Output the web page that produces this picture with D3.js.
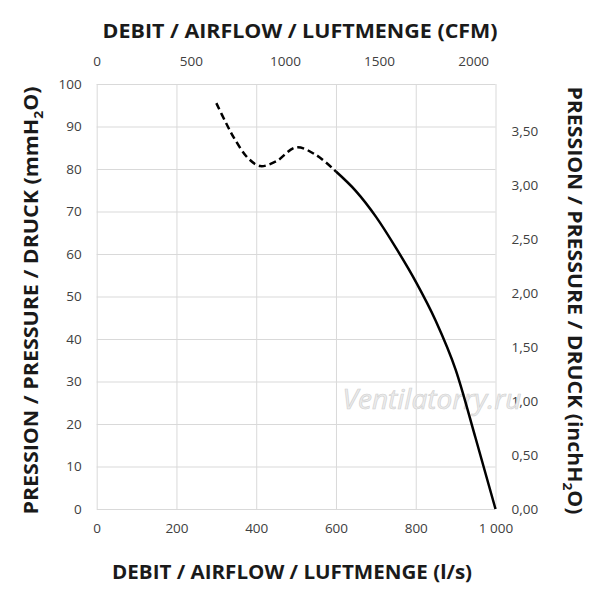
<!DOCTYPE html>
<html lang="en">
<head>
<meta charset="utf-8">
<title>Fan curve</title>
<script src="https://cdn.jsdelivr.net/npm/d3@7"></script>
<style>
  body { margin: 0; background: #fff; }
  text { font-family: "Open Sans", "DejaVu Sans", sans-serif; }
  .tick text { fill: #404040; font-size: 13.5px; }
  .grid line { stroke: #d9d9d9; stroke-width: 1; }
  .title { font-weight: bold; fill: #1a1a1a; font-size: 20px; }
</style>
</head>
<body>
<script>
// curve: flow (l/s), pressure (mmH2O)
var dashFlow = [300, 325, 345, 380, 410, 450, 500, 550, 600];
var dashPressure = [95.5, 90.7, 87.2, 82.5, 80.7, 81.8, 85.1, 83.3, 79.4];
var solidFlow = [600, 650, 700, 750, 800, 850, 900, 950, 1000];
var solidPressure = [79.4, 74.8, 68.8, 61.5, 53.5, 44.3, 32.8, 16.7, 0];

var flowTicks = [0, 200, 400, 600, 800, 1000];
var pressureTicks = [0, 10, 20, 30, 40, 50, 60, 70, 80, 90, 100];
var cfmTicks = [0, 500, 1000, 1500, 2000];
var inchTicks = [0, 0.5, 1, 1.5, 2, 2.5, 3, 3.5];

var w = 600, h = 600;
// plot edges (note: "top" is taken by window.top)
var pLeft = 96.7, pRight = 495.5, pTop = 84, pBottom = 509;

var svg = d3.select("body").append("svg")
    .attr("width", w)
    .attr("height", h);

var x = d3.scaleLinear().domain([0, 1000]).range([pLeft, pRight]);
var y = d3.scaleLinear().domain([0, 100]).range([pBottom, pTop]);
// secondary axes: same span converted
var xCfm = d3.scaleLinear().domain([0, 1000 * 2.11888]).range([pLeft, pRight]);
var yInch = d3.scaleLinear().domain([0, 100 / 25.4]).range([pBottom, pTop]);

var fr = d3.formatLocale({decimal: ",", thousands: "\u00a0", grouping: [3], currency: ["", ""]});

// grid + left axis
svg.append("g")
   .attr("class", "grid")
   .attr("transform", "translate(" + pLeft + ",0)")
   .call(d3.axisLeft(y).tickValues(pressureTicks).tickSize(-(pRight - pLeft)).tickPadding(15))
   .call(g => g.select(".domain").remove());

svg.append("g")
   .attr("class", "grid")
   .attr("transform", "translate(0," + pBottom + ")")
   .call(d3.axisBottom(x).tickValues(flowTicks).tickSize(-(pBottom - pTop)).tickPadding(14)
       .tickFormat(fr.format(",d")))
   .call(g => g.select(".domain").remove());

svg.append("g")
   .attr("transform", "translate(0," + pTop + ")")
   .call(d3.axisTop(xCfm).tickValues(cfmTicks).tickSize(0).tickPadding(18).tickFormat(d3.format("d")))
   .call(g => g.select(".domain").remove());

svg.append("g")
   .attr("transform", "translate(" + pRight + ",0)")
   .call(d3.axisRight(yInch).tickValues(inchTicks).tickSize(0).tickPadding(16).tickFormat(fr.format(".2f")))
   .call(g => g.select(".domain").remove());

// watermark
svg.append("text")
   .attr("x", 432).attr("y", 409)
   .attr("text-anchor", "middle")
   .attr("font-size", 28)
   .attr("font-style", "italic")
   .attr("fill", "#ececec")
   .attr("stroke", "#cfcfcf")
   .attr("stroke-width", 0.6)
   .text("Ventilatorry.ru");

var dashLine = d3.line()
    .x(d => x(d[0]))
    .y(d => y(d[1]))
    .curve(d3.curveCatmullRom.alpha(0.5));

var solidLine = d3.line()
    .x(d => x(d[0]))
    .y(d => y(d[1]))
    .curve(d3.curveMonotoneX);

svg.append("path")
   .datum(dashFlow.map((f, i) => [f, dashPressure[i]]))
   .attr("d", dashLine)
   .attr("fill", "none")
   .attr("stroke", "#000")
   .attr("stroke-width", 2.5)
   .attr("stroke-dasharray", "7,4");

svg.append("path")
   .datum(solidFlow.map((f, i) => [f, solidPressure[i]]))
   .attr("d", solidLine)
   .attr("fill", "none")
   .attr("stroke", "#000")
   .attr("stroke-width", 2.5);

// titles
var cx = (pLeft + pRight) / 2, cy = (pTop + pBottom) / 2;

svg.append("text").attr("class", "title")
   .attr("x", cx - 4).attr("y", 579)
   .attr("text-anchor", "middle")
   .attr("textLength", 360).attr("lengthAdjust", "spacingAndGlyphs")
   .text("DEBIT / AIRFLOW / LUFTMENGE (l/s)");

svg.append("text").attr("class", "title")
   .attr("x", cx + 4).attr("y", 38)
   .attr("text-anchor", "middle")
   .attr("textLength", 395).attr("lengthAdjust", "spacingAndGlyphs")
   .text("DEBIT / AIRFLOW / LUFTMENGE (CFM)");

var lt = svg.append("text").attr("class", "title")
   .attr("transform", "translate(38," + (cy + 4) + ") rotate(-90)")
   .attr("text-anchor", "middle")
   .attr("textLength", 428).attr("lengthAdjust", "spacingAndGlyphs");
lt.append("tspan").text("PRESSION / PRESSURE / DRUCK (mmH");
lt.append("tspan").attr("font-size", 13).attr("dy", 5).text("2");
lt.append("tspan").attr("dy", -5).text("O)");

var rt = svg.append("text").attr("class", "title")
   .attr("transform", "translate(568," + (cy + 4) + ") rotate(90)")
   .attr("text-anchor", "middle")
   .attr("textLength", 428).attr("lengthAdjust", "spacingAndGlyphs");
rt.append("tspan").text("PRESSION / PRESSURE / DRUCK (inchH");
rt.append("tspan").attr("font-size", 13).attr("dy", 5).text("2");
rt.append("tspan").attr("dy", -5).text("O)");
</script>
</body>
</html>
